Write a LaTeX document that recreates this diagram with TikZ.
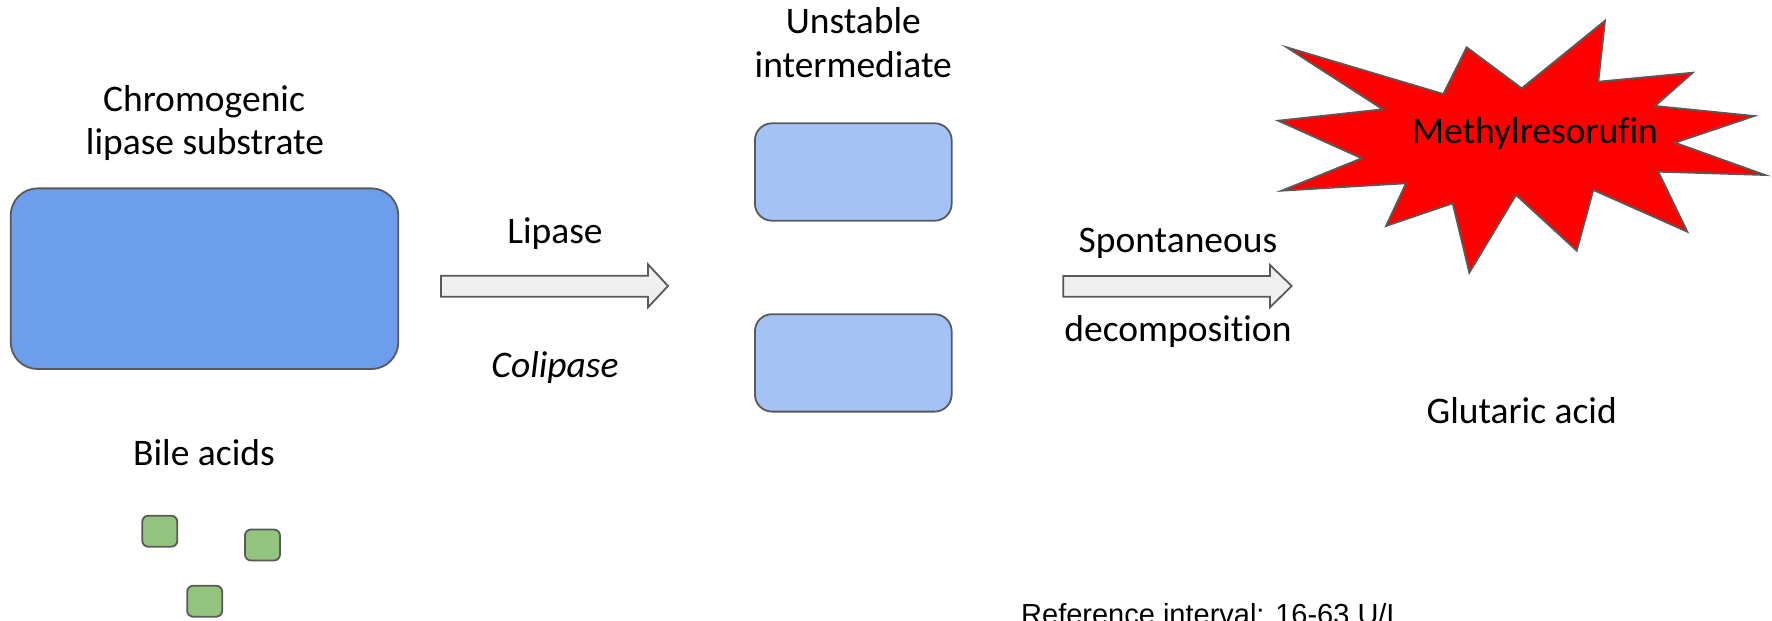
\documentclass[tikz,border=0pt]{standalone}
\usepackage{fontspec}
\setmainfont{Carlito}[Ligatures={NoCommon}]
\newfontfamily\arialfont{Liberation Sans}
\definecolor{bigblue}{HTML}{6D9EEB}
\definecolor{lightblue}{HTML}{A4C2F4}
\definecolor{bilegreen}{HTML}{93C47D}
\definecolor{arrowfill}{HTML}{EFEFEF}
\definecolor{edgegray}{HTML}{595959}
\definecolor{starred}{HTML}{FF0000}
\begin{document}
\begin{tikzpicture}[x=1pt,y=-1pt,
  lbl/.style={inner sep=0pt,anchor=base,font=\fontsize{37.5}{43}\selectfont},
  box/.style={draw=edgegray,line width=1.8pt,inner sep=0pt},
  blockarrow/.style={draw=edgegray,fill=arrowfill,line width=1.8pt,line join=miter},
]
\useasboundingbox (0,0) rectangle (1772,621);

% substrate
\node[lbl] (sub1) at (204,111.7) {Chromogenic};
\node[lbl] (sub2) at (205,154) {lipase substrate};
\node[box,fill=bigblue,rounded corners=27pt,minimum width=387.6pt,minimum height=180.7pt] (subbox) at (204.5,278.7) {};

% bile acids
\node[lbl] (bile) at (204,465.7) {Bile acids};
\node[box,fill=bilegreen,rounded corners=6pt,minimum width=35pt,minimum height=31pt] (sq1) at (159.8,531.2) {};
\node[box,fill=bilegreen,rounded corners=6pt,minimum width=35pt,minimum height=31pt] (sq2) at (262.5,545) {};
\node[box,fill=bilegreen,rounded corners=6pt,minimum width=35pt,minimum height=31pt] (sq3) at (204.7,601.2) {};

% lipase arrow
\node[lbl] (lip) at (555,243) {Lipase};
\node[lbl] (colip) at (555,377) {\itshape Colipase};
\draw[blockarrow] (441,275.7) -- (648,275.7) -- (648,264.3) -- (668,286) -- (648,307.3) -- (648,296.7) -- (441,296.7) -- cycle;

% intermediates
\node[lbl] (int1) at (853.3,33.3) {Unstable};
\node[lbl] (int2) at (853.3,77.3) {intermediate};
\node[box,fill=lightblue,rounded corners=17pt,minimum width=196.7pt,minimum height=97.4pt] (ibox1) at (853.3,172) {};
\node[box,fill=lightblue,rounded corners=17pt,minimum width=196.7pt,minimum height=97.4pt] (ibox2) at (853.3,362.9) {};

% spontaneous arrow
\node[lbl] (spon) at (1178,252.7) {Spontaneous};
\node[lbl] (decomp) at (1178,341) {decomposition};
\draw[blockarrow] (1063.3,276) -- (1270,276) -- (1270,265) -- (1291.7,286) -- (1270,307.3) -- (1270,296.7) -- (1063.3,296.7) -- cycle;

% star
\draw[draw=edgegray,fill=starred,line width=1.8pt,line join=miter]
  (1286.7,47.3) -- (1443.3,94) -- (1466.7,47.3) -- (1521.7,88.3) -- (1605,20.7) -- (1598.3,81.7)
  -- (1692.7,72.7) -- (1655,106) -- (1754.3,116) -- (1675,142.7) -- (1765,175) -- (1658.3,171.7)
  -- (1687.3,231.7) -- (1593.3,190) -- (1576.7,250.7) -- (1516,195) -- (1469.3,272.7) -- (1452.7,203.3)
  -- (1386,226) -- (1406,183.3) -- (1281.7,190.7) -- (1361.7,158.3) -- (1278.3,120.7) -- (1382.7,109.3) -- cycle;
\node[lbl] (methyl) at (1535,143.3) {Methylresorufin};

\node[lbl] (glut) at (1521.7,423.3) {Glutaric acid};

\node[inner sep=0pt,anchor=base west,font=\arialfont\fontsize{29}{34}\selectfont] (refint) at (1021,624) {Reference interval: 16-63 U/L};
\end{tikzpicture}
\end{document}
